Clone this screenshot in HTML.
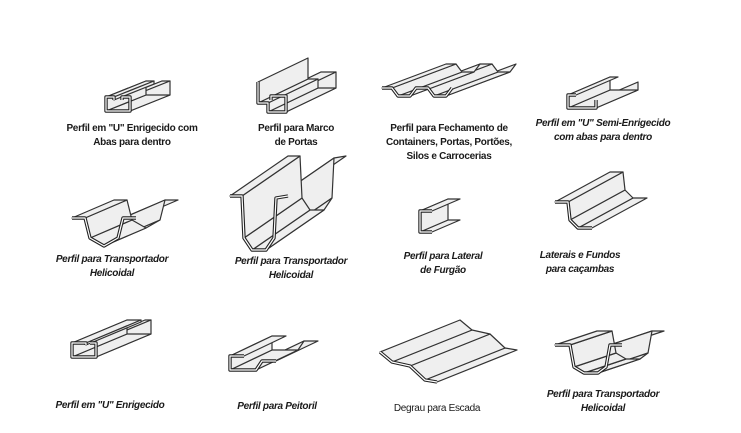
<!DOCTYPE html>
<html><head><meta charset="utf-8"><style>
html,body{margin:0;padding:0;background:#fff;width:741px;height:433px;overflow:hidden}
svg{position:absolute;left:0;top:0}
text{font-family:"Liberation Sans",sans-serif;font-size:10px;fill:#1a1a1a;text-anchor:middle;font-weight:bold;letter-spacing:-0.3px}
.i{font-style:italic}
</style></head><body>
<svg id="s" width="741" height="433" viewBox="0 0 741 433">
<g id="g"></g>
<text x="132" y="131">Perfil em "U" Enrigecido com</text>
<text x="132" y="145">Abas para dentro</text>
<text x="296" y="131">Perfil para Marco</text>
<text x="296" y="145">de Portas</text>
<text x="449" y="131">Perfil para Fechamento de</text>
<text x="449" y="145">Containers, Portas, Portões,</text>
<text x="449" y="159">Silos e Carrocerias</text>
<text class="i" x="603" y="126">Perfil em "U" Semi-Enrigecido</text>
<text class="i" x="603" y="140">com abas para dentro</text>
<text class="i" x="112" y="262">Perfil para Transportador</text>
<text class="i" x="112" y="276">Helicoidal</text>
<text class="i" x="291" y="264">Perfil para Transportador</text>
<text class="i" x="291" y="278">Helicoidal</text>
<text class="i" x="443" y="259">Perfil para Lateral</text>
<text class="i" x="443" y="273">de Furgão</text>
<text class="i" x="580" y="258">Laterais e Fundos</text>
<text class="i" x="580" y="272">para caçambas</text>
<text class="i" x="110" y="408">Perfil em "U" Enrigecido</text>
<text class="i" x="277" y="409">Perfil para Peitoril</text>
<text x="437" y="411" style="font-weight:normal">Degrau para Escada</text>
<text class="i" x="603" y="397">Perfil para Transportador</text>
<text class="i" x="603" y="411">Helicoidal</text>
</svg>
<script>
var shapes=[
 {p:[[114,100],[114,97],[106,97],[106,111],[130,111],[130,97],[122,97],[122,100]],d:[40,-16]},
 {p:[[258,82],[258,103],[268,103],[268,112],[286,112],[286,96],[271,96],[271,100]],d:[50,-24]},
 {p:[[382,88],[392,88],[398,96],[410,96],[416,88],[428,88],[434,96],[446,96],[452,88]],d:[64,-24]},
 {p:[[576,95],[568,95],[568,108],[596,108],[596,100]],d:[42,-18]},
 {p:[[72,218],[85,218],[90,238],[104,246],[118,238],[123,218],[136,218]],d:[42,-18]},
 {p:[[230,196],[242,196],[244,238],[252,250],[266,250],[274,238],[276,198],[288,196]],d:[58,-40]},
 {p:[[432,211],[420,211],[420,232],[432,232]],d:[28,-12]},
 {p:[[555,202],[568,202],[570,220],[578,228],[592,228]],d:[55,-30]},
 {p:[[86,345],[86,343],[72,343],[72,357],[96,357],[96,343],[90,343]],d:[55,-23]},
 {p:[[244,356],[230,356],[230,370],[256,370],[262,361],[276,361]],d:[42,-20]},
 {p:[[380,352],[392,362],[410,366],[425,380],[437,382]],d:[80,-32]},
 {p:[[555,345],[570,345],[574,367],[584,373],[598,373],[606,367],[610,345],[622,345]],d:[42,-14]}
];
var g=document.getElementById('g'),h='';
shapes.forEach(function(s){
 var p=s.p,d=s.d;
 for(var i=p.length-2;i>=0;i--){
  var a=p[i],b=p[i+1];
  h+='<polygon points="'+a+' '+b+' '+(b[0]+d[0])+','+(b[1]+d[1])+' '+(a[0]+d[0])+','+(a[1]+d[1])+'" fill="#efefef" stroke="#333" stroke-width="1.2" stroke-linejoin="round"/>';
 }
 var pts=p.map(function(q){return q.join(',')}).join(' ');
 h+='<polyline points="'+pts+'" fill="none" stroke="#222" stroke-width="3.4" stroke-linejoin="round"/>';
 h+='<polyline points="'+pts+'" fill="none" stroke="#fff" stroke-width="1.2" stroke-linejoin="round"/>';
});
g.innerHTML=h;
</script>
</body></html>
